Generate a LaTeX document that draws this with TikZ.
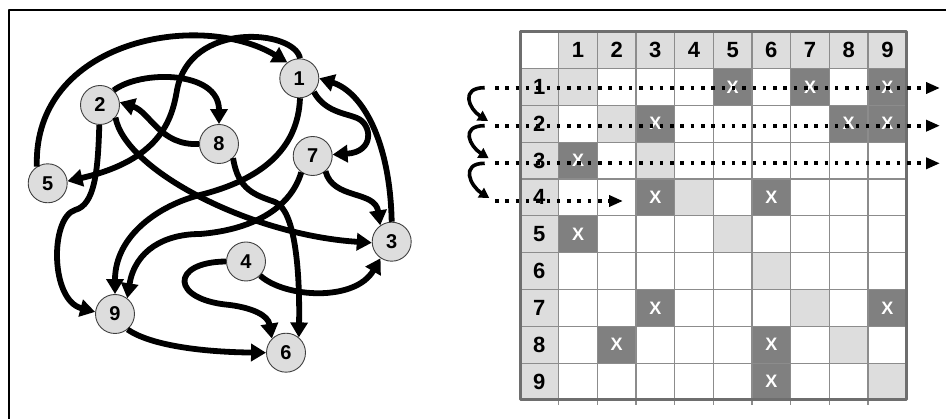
\documentclass[tikz,border=0pt]{standalone}
\usepackage{fontspec}
\setmainfont{Liberation Sans}
\usetikzlibrary{arrows.meta}

\begin{document}
\begin{tikzpicture}[x=1pt, y=-1pt, line join=round,
    vertex/.style={circle, draw=nodeborder, fill=lightcell, line width=0.9pt, minimum size=39pt, inner sep=0pt, font=\fontsize{20pt}{20pt}\selectfont\bfseries},
    edge/.style={line width=5.8pt, -{Triangle[length=15pt,width=17pt]}},
    scan/.style={line width=4pt, dash pattern=on 3.5pt off 6.8pt, -{Triangle[length=14pt,width=11pt]}},
    hop/.style={line width=3.6pt, -{Triangle[length=10pt,width=11pt]}},
    gridline/.style={draw=gridgray, line width=1.3pt},
    cellnum/.style={font=\fontsize{22pt}{22pt}\selectfont\bfseries},
    cellx/.style={text=white, font=\fontsize{18pt}{18pt}\selectfont\bfseries}]
        \definecolor{lightcell}{RGB}{221,221,221}
        \definecolor{darkcell}{RGB}{128,128,128}
        \definecolor{nodeborder}{RGB}{64,64,64}
        \definecolor{gridgray}{RGB}{140,140,140}
        \definecolor{tableborder}{RGB}{110,110,110}
        \def\cw{38.67}
        \def\rh{36.83}

        \useasboundingbox (0,0) rectangle (946,419);
        \draw[line width=2pt] (8.5,419) -- (8.5,10) -- (946,10);

        % graph
        \node[vertex] (n1) at (299.3,78.3) {1};
        \node[vertex] (n2) at (100,105) {2};
        \node[vertex] (n3) at (391.7,241.7) {3};
        \node[vertex] (n4) at (246,261.5) {4};
        \node[vertex] (n5) at (47.7,183.3) {5};
        \node[vertex] (n6) at (286,352.7) {6};
        \node[vertex] (n7) at (312.7,156) {7};
        \node[vertex] (n8) at (219,144) {8};
        \node[vertex] (n9) at (115,314) {9};

        \draw[edge] (n5.123) .. controls (33,40) and (200,10) .. (n1.127);
        \draw[edge] (n1.88) .. controls (295,30) and (190,20) .. (177,90) .. controls (172,120) and (160,160) .. (n5.6);
        \draw[edge] (n2.47) .. controls (140,70) and (219,70) .. (n8.north);
        \draw[edge] (n8.west) .. controls (160,146) and (150,112) .. (n2.8);
        \draw[edge] (n2.-39) .. controls (125,170) and (250,235) .. (n3.183);
        \draw[edge] (n2.-92) .. controls (98,170) and (95,205) .. (75,210) .. controls (50,218) and (50,300) .. (n9.174);
        \draw[edge] (n8.-45) .. controls (238,190) and (255,195) .. (275,202) .. controls (295,210) and (300,270) .. (n6.50);
        \draw[edge] (n1.-43) .. controls (325,112) and (345,113) .. (357,118) .. controls (372,124) and (375,152) .. (n7.4);
        \draw[edge] (n1.-88) .. controls (298,150) and (260,180) .. (200,195) .. controls (160,205) and (115,235) .. (n9.north);
        \draw[edge] (n7.-125) .. controls (290,210) and (250,230) .. (200,234) .. controls (165,234) and (135,250) .. (n9.52);
        \draw[edge] (n7.-50) .. controls (333,200) and (375,190) .. (n3.125);
        \draw[edge] (n3.north) .. controls (390,140) and (362,92) .. (n1.0);
        \draw[edge] (n4.-45) .. controls (285,298) and (355,302) .. (n3.-124);
        \draw[edge] (n4.west) .. controls (170,262) and (170,300) .. (230,305) .. controls (252,308) and (268,315) .. (n6.135);
        \draw[edge] (n9.-51) .. controls (150,345) and (200,352) .. (n6.west);

        % matrix
        \foreach \i in {1,...,9} {
            \fill[lightcell] (520+\i*\cw,31.7) rectangle ++(\cw,\rh);
            \fill[lightcell] (520,31.7+\i*\rh) rectangle ++(\cw,\rh);
            \fill[lightcell] (520+\i*\cw,31.7+\i*\rh) rectangle ++(\cw,\rh);
        }
        \foreach \r/\c in {1/5,1/7,1/9,2/3,2/8,2/9,3/1,4/3,4/6,5/1,7/3,7/9,8/2,8/6,9/6}
            \fill[darkcell] (520+\c*\cw,31.7+\r*\rh) rectangle ++(\cw,\rh);
        \foreach \i in {1,...,9} {
            \draw[gridline] (520+\i*\cw,31.7) -- (520+\i*\cw,405);
            \draw[gridline] (520,31.7+\i*\rh) -- (906.7,31.7+\i*\rh);
        }
        \draw[tableborder, line width=3pt] (520,31.7) rectangle (906.7,400);
        \foreach \i in {1,...,9} {
            \node[cellnum] (h\i) at (520+\i*\cw+\cw/2,31.7+\rh/2) {\i};
            \node[cellnum] (v\i) at (520+\cw/2,31.7+\i*\rh+\rh/2) {\i};
        }
        \foreach \r/\c in {1/5,1/7,1/9,2/3,2/8,2/9,3/1,4/3,4/6,5/1,7/3,7/9,8/2,8/6,9/6}
            \node[cellx] (x\r\c) at (520+\c*\cw+\cw/2,31.7+\r*\rh+\rh/2) {X};

        % row scan
        \coordinate (s1) at (495,88);
        \coordinate (e1) at (940,88);
        \coordinate (s2) at (495,125.7);
        \coordinate (e2) at (940,125.7);
        \coordinate (s3) at (495,163.3);
        \coordinate (e3) at (940,163.3);
        \coordinate (s4) at (495,201);
        \coordinate (e4) at (623,201);
        \foreach \i in {1,...,4}
            \draw[scan] (s\i) -- (e\i);

        \coordinate (a1) at (484.7,87.7);
        \coordinate (b1) at (488,121);
        \coordinate (a2) at (484.7,125.7);
        \coordinate (b2) at (488.7,158.3);
        \coordinate (a3) at (484.7,163.3);
        \coordinate (b3) at (489.3,198);
        \foreach \i in {1,2,3}
            \draw[hop] (a\i) .. controls +(-25,0) and +(-19,-12) .. (b\i);
    \end{tikzpicture}
\end{document}
